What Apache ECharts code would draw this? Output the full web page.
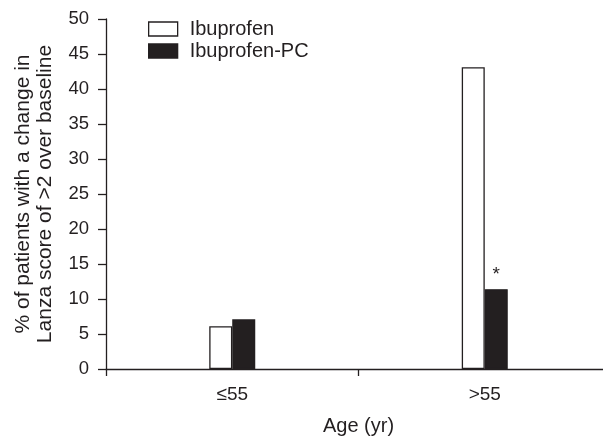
<!DOCTYPE html>
<html><head><meta charset="utf-8">
<script src="https://cdn.jsdelivr.net/npm/echarts@6/dist/echarts.min.js"></script>
<style>html,body{margin:0;padding:0;background:#fff}#c{width:603px;height:436px}</style>
</head><body><div id="c"></div>
<script>
var categories = ['≤55', '>55'];
var ibuprofen = [6.1, 43.1];
var ibuprofenPC = [7.1, 11.4];
var pcMarks = ['', '*'];
var yTicks = [0, 5, 10, 15, 20, 25, 30, 35, 40, 45, 50];

var ink = '#231f20';
var font = 'Arial, "Liberation Sans", sans-serif';
var chart = echarts.init(document.getElementById('c'));
chart.setOption({
  backgroundColor: '#fff',
  animation: false,
  textStyle: {fontFamily: font, color: ink},
  legend: {
    orient: 'vertical', left: 143, top: 14, itemWidth: 29, itemHeight: 14, itemGap: 2,
    icon: 'rect',
    textStyle: {fontSize: 20, color: ink, fontFamily: font, padding: [0, 0, 0, 7]},
    data: [
      {name: 'Ibuprofen', itemStyle: {color: '#fff', borderColor: ink, borderWidth: 1.3}},
      {name: 'Ibuprofen-PC', itemStyle: {color: ink, borderColor: ink, borderWidth: 1.3}}
    ]
  },
  grid: {left: 106, width: 505, top: 19, height: 350, containLabel: false, outerBoundsMode: 'none'},
  xAxis: {
    type: 'category', data: categories,
    name: 'Age (yr)', nameLocation: 'middle', nameGap: 47,
    nameTextStyle: {fontSize: 20, color: ink, fontFamily: font},
    axisLine: {lineStyle: {color: ink, width: 1.3}},
    axisTick: {show: true, length: 7, lineStyle: {color: ink, width: 1.3}},
    axisLabel: {fontSize: 19, color: ink, margin: 16, fontFamily: font}
  },
  yAxis: {
    type: 'value', min: yTicks[0], max: yTicks[yTicks.length - 1], interval: 5,
    name: '% of patients with a change in\nLanza score of >2 over baseline',
    nameLocation: 'middle', nameGap: 50, nameRotate: 90,
    nameTextStyle: {fontSize: 21, color: ink, fontFamily: font, lineHeight: 22},
    axisLine: {show: true, lineStyle: {color: ink, width: 1.3}},
    axisTick: {show: true, length: 8, lineStyle: {color: ink, width: 1.3}},
    axisLabel: {fontSize: 18.5, color: ink, margin: 17, fontFamily: font},
    splitLine: {show: false}
  },
  series: [
    {name: 'Ibuprofen', type: 'bar', data: ibuprofen, barWidth: 23, barGap: '0%',
     itemStyle: {color: '#fff', borderColor: ink, borderWidth: 1.3}},
    {name: 'Ibuprofen-PC', type: 'bar', data: ibuprofenPC, barWidth: 23,
     itemStyle: {color: ink, borderColor: ink, borderWidth: 1.3},
     label: {show: true, position: 'top', distance: 5, fontSize: 19, color: ink, fontFamily: font,
       formatter: function (p) { return pcMarks[p.dataIndex]; }}}
  ]
});
</script></body></html>
